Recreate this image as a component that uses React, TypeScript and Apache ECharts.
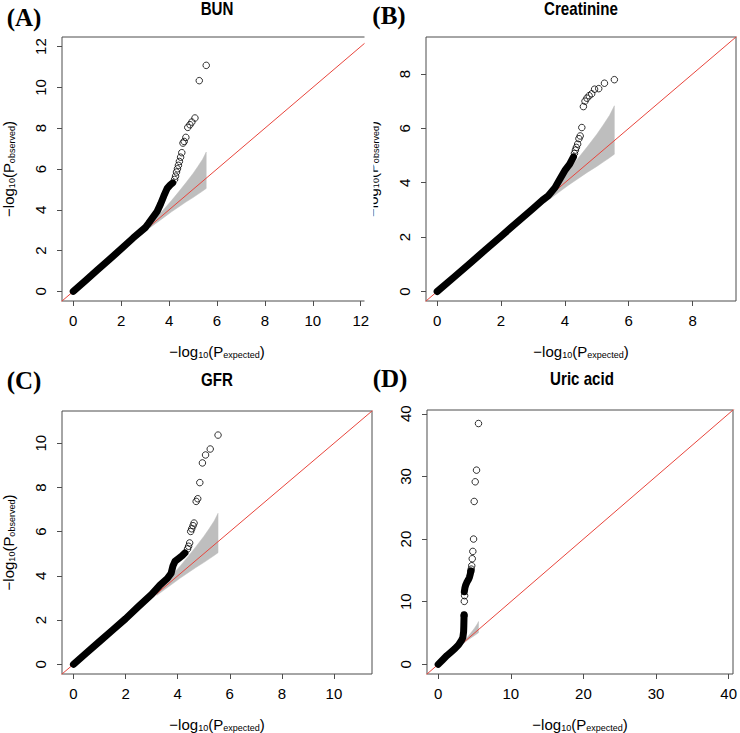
import React, { useEffect, useRef } from "react";
import * as echarts from "echarts";

// ---------- data ----------
// Tick labels
const ticksA = [0, 2, 4, 6, 8, 10, 12];
const ticksB = [0, 2, 4, 6, 8];
const ticksC = [0, 2, 4, 6, 8, 10];
const ticksD = [0, 10, 20, 30, 40];

// (A) BUN — dense part of the QQ curve and the separate outlying points
const bunDenseX = [0, 0.5, 1, 1.5, 2, 2.5, 3, 3.15, 3.5, 3.65, 3.78, 3.92, 4.05, 4.15];
const bunDenseY = [0, 0.52, 1.04, 1.56, 2.08, 2.62, 3.12, 3.35, 3.92, 4.3, 4.68, 5.05, 5.22, 5.32];
const bunOutX = [5.55, 5.26, 5.08, 4.95, 4.87, 4.78, 4.7, 4.63, 4.58, 4.53, 4.48, 4.43, 4.39, 4.35, 4.31, 4.27, 4.23];
const bunOutY = [11.08, 10.33, 8.5, 8.3, 8.17, 8.04, 7.55, 7.35, 7.27, 6.8, 6.58, 6.37, 6.18, 6.01, 5.85, 5.65, 5.49];

// (B) Creatinine
const creDenseX = [0, 0.5, 1, 1.5, 2, 2.5, 3, 3.3, 3.48, 3.69, 3.85, 4.0, 4.15, 4.27];
const creDenseY = [0, 0.5, 1.01, 1.52, 2.03, 2.54, 3.05, 3.36, 3.52, 3.82, 4.15, 4.45, 4.68, 4.95];
const creOutX = [5.55, 5.24, 5.06, 4.93, 4.84, 4.76, 4.69, 4.63, 4.58, 4.53, 4.48, 4.44, 4.4, 4.36, 4.33, 4.3];
const creOutY = [7.79, 7.66, 7.46, 7.44, 7.27, 7.2, 7.11, 7.0, 6.8, 6.03, 5.72, 5.62, 5.42, 5.3, 5.2, 5.08];

// (C) GFR
const gfrDenseX = [0, 0.5, 1, 1.5, 2, 2.5, 3, 3.32, 3.6, 3.75, 3.82, 3.9, 4.05, 4.18, 4.28];
const gfrDenseY = [0, 0.52, 1.03, 1.55, 2.06, 2.62, 3.16, 3.58, 3.88, 4.12, 4.45, 4.66, 4.8, 4.92, 5.04];
const gfrOutX = [5.55, 5.25, 5.07, 4.95, 4.85, 4.77, 4.71, 4.63, 4.59, 4.54, 4.5, 4.46, 4.42, 4.38];
const gfrOutY = [10.37, 9.74, 9.47, 9.11, 8.22, 7.49, 7.37, 6.39, 6.27, 6.13, 6.01, 5.49, 5.34, 5.22];

// (D) Uric acid — two dense stretches plus outliers
const uricDenseX = [0, 0.6, 1.2, 1.8, 2.3, 2.8, 3.2, 3.4, 3.5, 3.53, 3.55, 3.57];
const uricDenseY = [0, 0.7, 1.4, 2.0, 2.5, 3.1, 3.8, 4.3, 5.2, 6.2, 7.2, 7.9];
const uricDense2X = [3.6, 3.68, 3.8, 3.95, 4.15, 4.3, 4.42, 4.5];
const uricDense2Y = [11.6, 12.2, 12.7, 13.1, 13.5, 13.9, 14.4, 14.9];
const uricOutX = [5.55, 5.28, 5.1, 4.96, 4.87, 4.77, 4.69, 4.62, 4.55, 4.49, 3.64, 3.6, 3.57];
const uricOutY = [38.44, 31.0, 29.14, 26.0, 20.0, 18.03, 16.86, 15.74, 15.2, 14.83, 10.96, 10.05, 7.8];

// 90% confidence band (same in every panel)
const bandX = [3.2, 3.5, 3.8, 4.1, 4.4, 4.7, 5.0, 5.2, 5.4, 5.55];
const bandLo = [3.12, 3.38, 3.64, 3.9, 4.14, 4.38, 4.6, 4.76, 4.92, 5.05];
const bandHi = [3.3, 3.66, 4.05, 4.45, 4.88, 5.32, 5.78, 6.12, 6.48, 6.83];

// ---------- layout ----------
const SANS = "'Liberation Sans', Arial, Helvetica, sans-serif";
const SERIF = "'Liberation Serif', 'DejaVu Serif', serif";
const BOX = "#4d4d4d";

const zip = (xs: number[], ys: number[]) => xs.map((x, i) => [x, ys[i]]);

const panels = [
  {
    title: "BUN", letter: "(A)", ticks: ticksA, range: [-0.47, 12.47],
    grid: { left: 62, top: 37, width: 310, height: 264 },
    dense: [zip(bunDenseX, bunDenseY)], out: zip(bunOutX, bunOutY), yName: true,
    letterPos: [24, 17], titleY: 0,
  },
  {
    title: "Creatinine", letter: "(B)", ticks: ticksB, range: [-0.35, 9.36],
    grid: { left: 426, top: 37, width: 310, height: 264 },
    dense: [zip(creDenseX, creDenseY)], out: zip(creOutX, creOutY), yName: true,
    letterPos: [389, 15], titleY: 0,
  },
  {
    title: "GFR", letter: "(C)", ticks: ticksC, range: [-0.44, 11.46],
    grid: { left: 62, top: 411, width: 310, height: 264 },
    dense: [zip(gfrDenseX, gfrDenseY)], out: zip(gfrOutX, gfrOutY), yName: true,
    letterPos: [24, 380], titleY: 371,
  },
  {
    title: "Uric acid", letter: "(D)", ticks: ticksD, range: [-1.54, 40.6],
    grid: { left: 427, top: 410, width: 310, height: 264 },
    dense: [zip(uricDenseX, uricDenseY), zip(uricDense2X, uricDense2Y)], out: zip(uricOutX, uricOutY), yName: false,
    letterPos: [390, 378], titleY: 370,
  },
];

const rich = {
  a: { fontSize: 15, fontFamily: SANS, color: "#000", lineHeight: 17, verticalAlign: "bottom" },
  s: { fontSize: 9, fontFamily: SANS, color: "#000", lineHeight: 11, verticalAlign: "bottom" },
};

function buildOption() {
  const grid = panels.map((p) => ({ ...p.grid, show: true, borderColor: BOX, borderWidth: 1, backgroundColor: "transparent" }));
  const xAxis = panels.map((p, i) => ({
    type: "value", gridIndex: i, min: p.range[0], max: p.range[1],
    axisLine: { show: false, onZero: false },
    splitLine: { show: false },
    axisTick: { show: true, length: 5, customValues: p.ticks, lineStyle: { color: BOX, width: 1 } },
    axisLabel: { customValues: p.ticks, margin: 12, fontSize: 15, fontFamily: SANS, color: "#000" },
    name: "{a|−log}{s|10}{a|(P}{s|expected}{a|)}",
    nameLocation: "middle", nameGap: 41,
    nameTextStyle: { rich },
  }));
  const yAxis = panels.map((p, i) => ({
    type: "value", gridIndex: i, min: p.range[0], max: p.range[1],
    axisLine: { show: false, onZero: false },
    splitLine: { show: false },
    axisTick: { show: true, length: 5, customValues: p.ticks, lineStyle: { color: BOX, width: 1 } },
    axisLabel: { customValues: p.ticks, margin: 14, rotate: 90, fontSize: 15, fontFamily: SANS, color: "#000" },
    name: p.yName ? "{a|−log}{s|10}{a|(P}{s|observed}{a|)}" : "",
    nameLocation: "middle", nameGap: 46, nameRotate: 90,
    nameTextStyle: { rich },
  }));

  const series: any[] = [];
  panels.forEach((p, i) => {
    series.push({
      type: "custom", xAxisIndex: i, yAxisIndex: i, silent: true, z: 1, clip: true,
      data: bandX.map((x, j) => [x, bandLo[j], bandHi[j]]),
      encode: { x: 0, y: [1, 2] },
      renderItem: (params: any, api: any) => {
        if (params.dataIndex !== 0) return null;
        const upper = bandX.map((x, j) => api.coord([x, bandHi[j]]));
        const lower = bandX.map((x, j) => api.coord([x, bandLo[j]])).reverse();
        return { type: "polygon", shape: { points: [...upper, ...lower] }, style: { fill: "#bebebe", stroke: "#bebebe", lineWidth: 0.5 } };
      },
    });
    series.push({
      type: "line", xAxisIndex: i, yAxisIndex: i, silent: true, z: 2, clip: true,
      data: [[p.range[0] - 5, p.range[0] - 5], [p.range[1] + 5, p.range[1] + 5]],
      symbol: "none", lineStyle: { color: "#e8453c", width: 1 },
    });
    p.dense.forEach((d) => {
      series.push({
        type: "line", xAxisIndex: i, yAxisIndex: i, silent: true, z: 3, clip: false,
        data: d, symbol: "none",
        lineStyle: { color: "#000", width: 7, cap: "round", join: "round" },
      });
    });
    series.push({
      type: "scatter", xAxisIndex: i, yAxisIndex: i, silent: true, z: 4,
      data: p.out, symbol: "circle", symbolSize: 6.5,
      itemStyle: { color: "rgba(0,0,0,0)", borderColor: "#000", borderWidth: 1 },
    });
  });

  const graphic: any[] = [];
  panels.forEach((p) => {
    graphic.push({
      type: "text", x: p.grid.left + p.grid.width / 2, y: p.titleY, z: 10, scaleX: 0.84, scaleY: 1,
      style: { text: p.title, fontSize: 18, fontWeight: "bold", fontFamily: SANS, fill: "#000", align: "center", verticalAlign: "top" },
    });
    graphic.push({
      type: "text", x: p.letterPos[0], y: p.letterPos[1], z: 10,
      style: { text: p.letter, fontSize: 25, fontWeight: "bold", fontFamily: SERIF, fill: "#000", align: "center", verticalAlign: "middle" },
    });
  });
  // panel (A) is cropped on its right-hand side in the original figure
  graphic.push({ type: "rect", z: 100, shape: { x: 364.5, y: 28, width: 9, height: 276 }, style: { fill: "#fff" } });

  return { animation: false, backgroundColor: "#fff", grid, xAxis, yAxis, series, graphic };
}

export default function App() {
  const ref = useRef<HTMLDivElement>(null);
  useEffect(() => {
    if (!ref.current) return;
    const chart = echarts.init(ref.current, undefined, { renderer: "svg" });
    chart.setOption(buildOption() as any);
    return () => chart.dispose();
  }, []);
  return <div ref={ref} style={{ position: "absolute", left: 0, top: 0, width: 740, height: 733 }} />;
}
